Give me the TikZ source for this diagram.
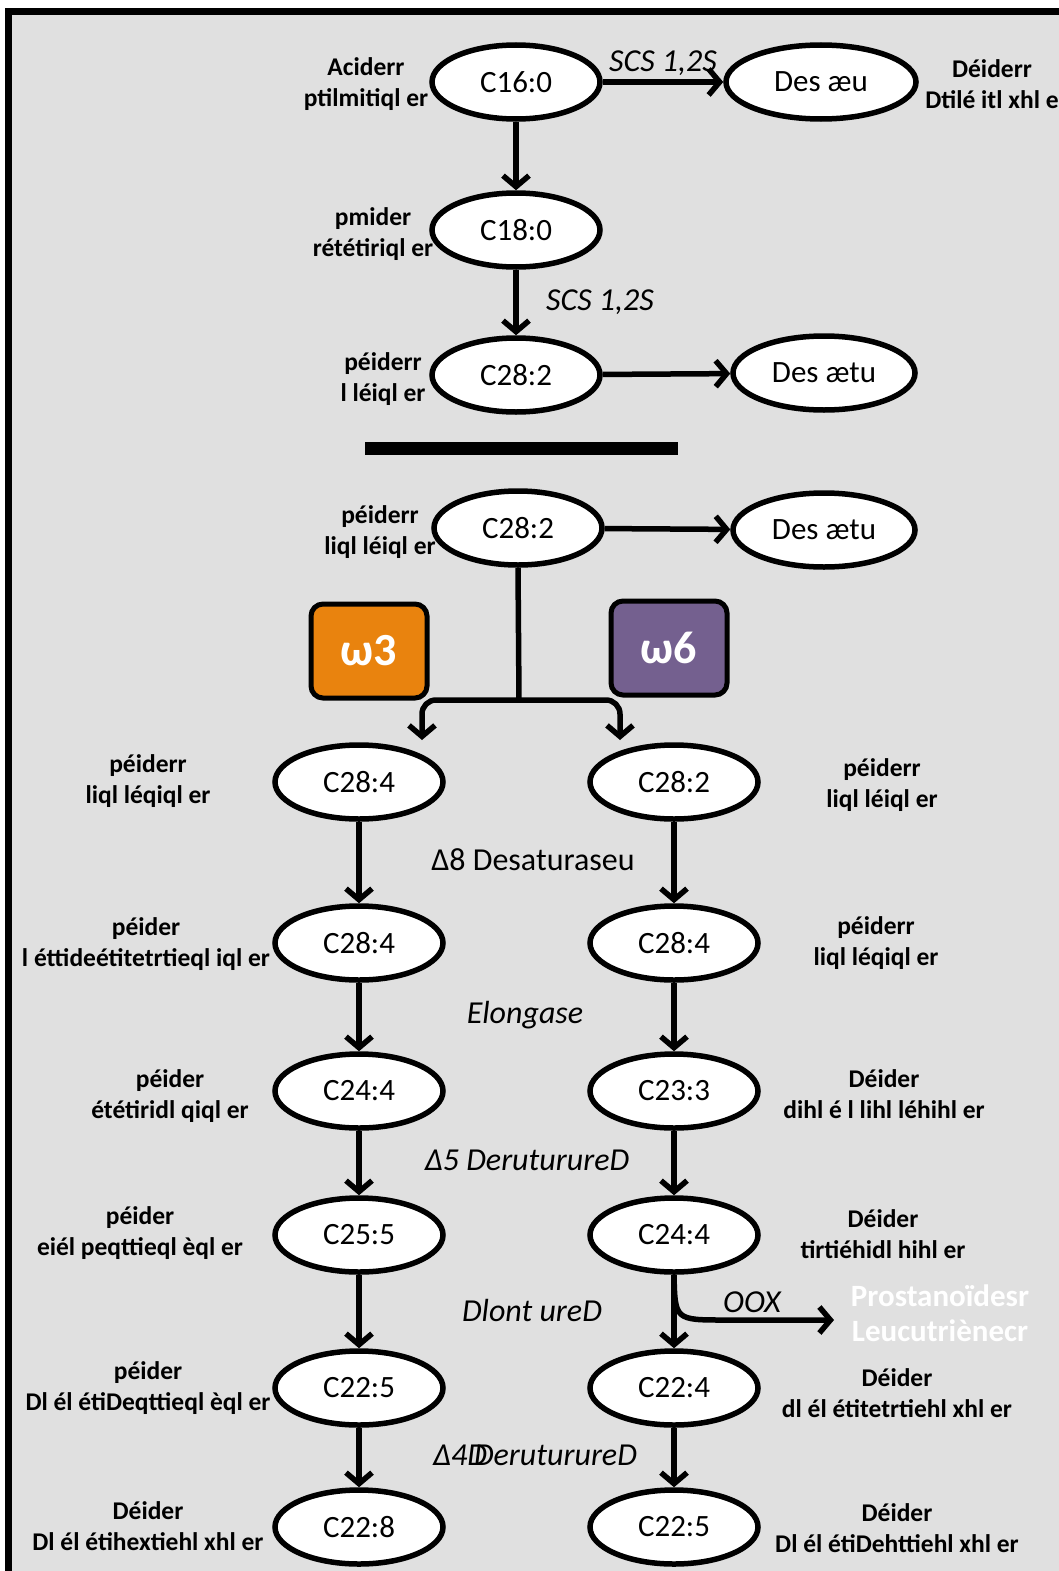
\documentclass[tikz,border=0pt]{standalone}
\usepackage{fontspec}
\setmainfont{Carlito}
\usetikzlibrary{shapes.geometric,arrows.meta}
\definecolor{bggray}{RGB}{224,224,224}
\definecolor{omorange}{RGB}{233,131,14}
\definecolor{ompurple}{RGB}{116,96,143}
\begin{document}
\begin{tikzpicture}[x=1pt,y=-1pt,
  ell/.style={ellipse,draw,fill=white,line width=5.5pt,minimum width=168pt,minimum height=74pt,inner sep=0pt,font=\fontsize{31}{36}\selectfont},
  lbl/.style={align=center,font=\bfseries\fontsize{25.5}{31}\selectfont},
  enz/.style={font=\itshape\fontsize{32}{36}\selectfont},
  enzup/.style={font=\fontsize{32}{36}\selectfont},
  arr/.style={line width=5.5pt,-{Straight Barb[length=11pt,width=26pt]}},
  conn/.style={line width=5.5pt},
  ombox/.style={draw,rounded corners=12pt,line width=5pt,minimum width=116pt,minimum height=94pt,text=white,font=\bfseries\fontsize{46}{50}\selectfont},
  whitelbl/.style={align=center,text=white,font=\bfseries\fontsize{31}{35}\selectfont}
]
\useasboundingbox (0,0) rectangle (1058,1571);
\path[fill=bggray,draw=black,line width=7pt] (8.5,11.5) rectangle (1080,1600);

% top section
\node[ell] (c160) at (516,82) {C16:0};
\node[ell,minimum width=190pt] (desaeu) at (821,82) {Des æu};
\node[ell] (c180) at (516,230) {C18:0};
\node[ell] (c282a) at (516,375) {C28:2};
\node[ell,minimum width=182pt] (desaetua) at (824,373) {Des ætu};

\node[lbl] (l160) at (366,84) {Aciderr\\ptilmitiql er};
\node[lbl] (r160) at (992,84) {Déiderr\\Dtilé itl xhl e};
\node[lbl] (l180) at (373,234) {pmider\\rététiriql er};
\node[lbl] (l282a) at (383,379) {péiderr\\l léiql er};

\draw[arr] (c160) -- (desaeu) node[enz,midway,above=0pt] (scs1) {SCS 1,2S};
\draw[arr] (c160) -- (c180);
\draw[arr] (c180) -- (c282a) node[enz,midway,right=24pt] (scs2) {SCS 1,2S};
\draw[arr] (c282a) -- (desaetua);

% separator bar
\node[fill=black,minimum width=313pt,minimum height=13pt,inner sep=0pt] (bar) at (521,448) {};

% second section
\node[ell] (c282b) at (518,528) {C28:2};
\node[ell,minimum width=182pt] (desaetub) at (824,530) {Des ætu};
\node[lbl] (l282b) at (380,532) {péiderr\\liql léiql er};
\draw[arr] (c282b) -- (desaetub);

\node[ombox,fill=omorange] (om3) at (369,651) {ω3};
\node[ombox,fill=ompurple] (om6) at (669,648) {ω6};

\coordinate (fork) at (519,700);
\coordinate (tipL) at (422,740);
\coordinate (tipR) at (620,740);
\draw[conn] (c282b.south) -- (fork);
\draw[arr,rounded corners=14pt] (fork) -- (422,700) -- (tipL);
\draw[arr,rounded corners=14pt] (fork) -- (620,700) -- (tipR);

% omega-3 column
\node[ell] (a1) at (359,782) {C28:4};
\node[ell] (a2) at (359,943) {C28:4};
\node[ell] (a3) at (359,1091) {C24:4};
\node[ell] (a4) at (359,1235) {C25:5};
\node[ell] (a5) at (359,1388) {C22:5};
\node[ell] (a6) at (359,1527) {C22:8};
% omega-6 column
\node[ell] (b1) at (674,782) {C28:2};
\node[ell] (b2) at (674,943) {C28:4};
\node[ell] (b3) at (674,1091) {C23:3};
\node[ell] (b4) at (674,1235) {C24:4};
\node[ell] (b5) at (674,1388) {C22:4};
\node[ell] (b6) at (674,1527) {C22:5};

\draw[arr] (a1) -- (a2);
\draw[arr] (a2) -- (a3);
\draw[arr] (a3) -- (a4);
\draw[arr] (a4) -- (a5);
\draw[arr] (a5) -- (a6);
\draw[arr] (b1) -- (b2);
\draw[arr] (b2) -- (b3);
\draw[arr] (b3) -- (b4);
\draw[arr] (b4) -- (b5);
\draw[arr] (b5) -- (b6);

% enzyme labels
\node[enzup] (e1) at (533,860) {Δ8 Desaturaseu};
\node[enz] (e2) at (525,1015) {Elongase};
\node[enz] (e3) at (527,1160) {Δ5 DeruturureD};
\node[enz] (e4) at (532,1310) {Dlont ureD};
\node[enz] (e5) at (535,1455) {Δ4D\kern-13pt DeruturureD};

% OOX branch
\coordinate (ooxend) at (834,1320);
\draw[arr] (b4.south) .. controls (675,1320) .. (725,1320) -- (ooxend);
\node[enz] (oox) at (752,1302) {OOX};
\node[whitelbl] (prost) at (940,1313) {Prostanoïdesr\\Leucutrièneсr};

% left labels
\node[lbl] (la1) at (148,781) {péiderr\\liql léqiql er};
\node[lbl] (la2) at (146,944) {péider\\l éttideétitetrtieql iql er};
\node[lbl] (la3) at (170,1096) {péider\\ététiridl qiql er};
\node[lbl] (la4) at (140,1233) {péider\\eiél peqttieql èql er};
\node[lbl] (la5) at (148,1388) {péider\\Dl él étiDeqttieql èql er};
\node[lbl] (la6) at (148,1526) {Déider\\Dl él étihextiehl xhl er};
% right labels
\node[lbl] (lb1) at (882,785) {péiderr\\liql léiql er};
\node[lbl] (lb2) at (876,943) {péiderr\\liql léqiql er};
\node[lbl] (lb3) at (884,1094) {Déider\\dihl é l lihl léhihl er};
\node[lbl] (lb4) at (883,1234) {Déider\\tirtiéhidl hihl er};
\node[lbl] (lb5) at (897,1393) {Déider\\dl él étitetrtiehl xhl er};
\node[lbl] (lb6) at (897,1528) {Déider\\Dl él étiDehttiehl xhl er};
\end{tikzpicture}
\end{document}
